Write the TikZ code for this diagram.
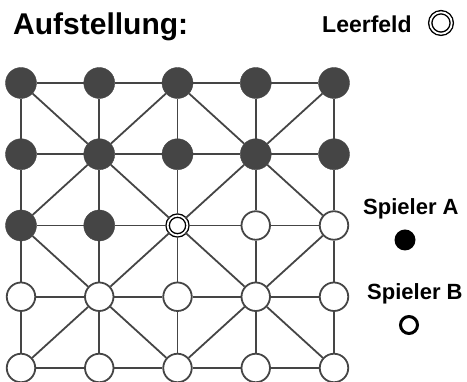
\documentclass[tikz,border=0pt]{standalone}
\usepackage{fontspec}
\setmainfont{Liberation Sans}
\usetikzlibrary{positioning}
\definecolor{brett}{HTML}{454545}
\tikzset{spa/.style={circle, fill=brett, draw=brett, minimum size=31pt, inner sep=0pt}}
\tikzset{spb/.style={circle, fill=white, draw=brett, line width=1.8pt, minimum size=28.5pt, inner sep=0pt}}
\tikzset{leer/.style={circle, draw=black, line width=1.4pt, double, double distance=1.8pt, minimum size=19.7pt, inner sep=0pt}}
\tikzset{linie/.style={draw=brett, line width=1.8pt}}
\tikzset{txt/.style={anchor=base west, inner sep=0pt, font=\bfseries}}

\begin{document}
\begin{tikzpicture}[x=1pt, y=1pt, node distance = 71.25pt and 78.25pt, on grid]
        \useasboundingbox (0,0) rectangle (467,382);
        % Ueberschrift und Legende
        \node[txt, font=\fontsize{30}{30}\selectfont\bfseries] (titel) at (13,347) {Aufstellung:};
        \node[txt, font=\fontsize{23}{23}\selectfont\bfseries] (leertxt) at (322,349) {Leerfeld};
        \node[leer, minimum size=21.5pt] (leersym) at (441,359) {};
        \node[txt, font=\fontsize{22}{22}\selectfont\bfseries] (atxt) at (363,167) {Spieler A};
        \node[circle, fill=black, minimum size=21pt, inner sep=0pt] (asym) at (405,142) {};
        \node[txt, font=\fontsize{22}{22}\selectfont\bfseries] (btxt) at (367,82) {Spieler B};
        \node[circle, draw=black, line width=3pt, minimum size=17pt, inner sep=0pt] (bsym) at (409,57) {};
        % Reihe a
        \node[spa] (a1) at (21,299) {};
        \node[spa, right=of a1] (a2) {};
        \node[spa, right=of a2] (a3) {};
        \node[spa, right=of a3] (a4) {};
        \node[spa, right=of a4] (a5) {};
        % Reihe b
        \node[spa, below=of a1] (b1) {};
        \node[spa, right=of b1] (b2) {};
        \node[spa, right=of b2] (b3) {};
        \node[spa, right=of b3] (b4) {};
        \node[spa, right=of b4] (b5) {};
        % Reihe c
        \node[spa, below=of b1] (c1) {};
        \node[spa, right=of c1] (c2) {};
        \node[leer, right=of c2] (c3) {};
        \node[spb, right=of c3] (c4) {};
        \node[spb, right=of c4] (c5) {};
        % Reihe d
        \node[spb, below=of c1] (d1) {};
        \node[spb, right=of d1] (d2) {};
        \node[spb, right=of d2] (d3) {};
        \node[spb, right=of d3] (d4) {};
        \node[spb, right=of d4] (d5) {};
        % Reihe e
        \node[spb, below=of d1] (e1) {};
        \node[spb, right=of e1] (e2) {};
        \node[spb, right=of e2] (e3) {};
        \node[spb, right=of e3] (e4) {};
        \node[spb, right=of e4] (e5) {};
        % waagrecht
        \draw[linie] (a1) -- (a2) -- (a3) -- (a4) -- (a5);
        \draw[linie] (b1) -- (b2) -- (b3) -- (b4) -- (b5);
        \draw[linie] (c1) -- (c2) -- (c3) -- (c4) -- (c5);
        \draw[linie] (d1) -- (d2) -- (d3) -- (d4) -- (d5);
        \draw[linie] (e1) -- (e2) -- (e3) -- (e4) -- (e5);
        % senkrecht
        \draw[linie] (a1) -- (b1) -- (c1) -- (d1) -- (e1);
        \draw[linie] (a2) -- (b2) -- (c2) -- (d2) -- (e2);
        \draw[linie] (a3) -- (b3) -- (c3) -- (d3) -- (e3);
        \draw[linie] (a4) -- (b4) -- (c4) -- (d4) -- (e4);
        \draw[linie] (a5) -- (b5) -- (c5) -- (d5) -- (e5);
        % diagonal
        \draw[linie] (a1) -- (b2) -- (c3) -- (d4) -- (e5);
        \draw[linie] (a5) -- (b4) -- (c3) -- (d2) -- (e1);
        \draw[linie] (a3) -- (b2) -- (c1) -- (d2) -- (e3) -- (d4) -- (c5) -- (b4) -- (a3);
    \end{tikzpicture}
\end{document}
